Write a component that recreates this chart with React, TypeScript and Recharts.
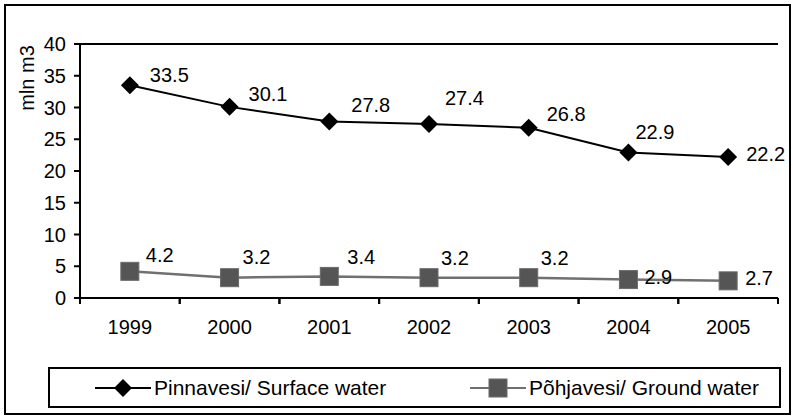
import { LineChart, Line, XAxis, YAxis, ReferenceLine, LabelList, Label } from "recharts";

const years = ["1999", "2000", "2001", "2002", "2003", "2004", "2005"];
const surfaceWater = [33.5, 30.1, 27.8, 27.4, 26.8, 22.9, 22.2];
const groundWater = [4.2, 3.2, 3.4, 3.2, 3.2, 2.9, 2.7];
const yTicks = [0, 5, 10, 15, 20, 25, 30, 35, 40];

const SURFACE_NAME = "Pinnavesi/ Surface water";
const GROUND_NAME = "Põhjavesi/ Ground water";

// label placement relative to the point (text left edge, text middle)
const surfaceLabelOffsets = [[20, -10], [19, -13], [22, -16], [16, -26], [18, -14], [7, -21], [18, -3]];
const groundLabelOffsets = [[16, -16], [13, -21], [18, -19], [12, -20], [12, -20], [16, -3], [17, -3]];

const data = years.map((year, i) => ({ year, surface: surfaceWater[i], ground: groundWater[i] }));

const W = 793;
const H = 419;
const PLOT_LEFT = 80;
const PLOT_RIGHT = 778;
const PLOT_TOP = 44;
const PLOT_BOTTOM = 298;
const BAND = (PLOT_RIGHT - PLOT_LEFT) / years.length;
const FONT = "'Liberation Sans', Arial, sans-serif";
const FS = 20;
const LEGEND_FS = 21;

const SURFACE_COLOR = "#000000";
const GROUND_LINE = "#707070";
const GROUND_MARK = "#555555";

function Diamond(props: any) {
  const { cx, cy } = props;
  if (cx == null || cy == null) return null;
  const r = 9;
  return <path d={`M${cx},${cy - r}L${cx + r},${cy}L${cx},${cy + r}L${cx - r},${cy}Z`} fill={SURFACE_COLOR} />;
}

function Square(props: any) {
  const { cx, cy } = props;
  if (cx == null || cy == null) return null;
  return <rect x={cx - 9} y={cy - 9} width={18} height={18} fill={GROUND_MARK} stroke="#6a6a6a" strokeWidth={1} />;
}

function makeLabel(offsets: number[][]) {
  return (props: any) => {
    const { x, y, value, index } = props;
    const [dx, dy] = offsets[index] || [15, -12];
    return (
      <text x={x + dx} y={y + dy} dominantBaseline="central" fontSize={FS} fontFamily={FONT} fill="#000">
        {value}
      </text>
    );
  };
}

function XTick(props: any) {
  const { x, y, payload } = props;
  return (
    <g>
      <line x1={x - BAND / 2} y1={y} x2={x - BAND / 2} y2={y + 6} stroke="#000" strokeWidth={2} />
      <line x1={x + BAND / 2} y1={y} x2={x + BAND / 2} y2={y + 6} stroke="#000" strokeWidth={2} />
      <text x={x} y={y + 29} textAnchor="middle" dominantBaseline="central" fontSize={FS} fontFamily={FONT} fill="#000">
        {payload.value}
      </text>
    </g>
  );
}

function LegendMarker({ kind }: { kind: "diamond" | "square" }) {
  return (
    <svg width={56} height={20} style={{ display: "block" }}>
      {kind === "diamond" ? (
        <>
          <line x1={0} y1={10} x2={56} y2={10} stroke={SURFACE_COLOR} strokeWidth={2} />
          <path d="M28,1L37,10L28,19L19,10Z" fill={SURFACE_COLOR} />
        </>
      ) : (
        <>
          <line x1={0} y1={10} x2={56} y2={10} stroke={GROUND_LINE} strokeWidth={2} />
          <rect x={19} y={1} width={18} height={18} fill={GROUND_MARK} stroke="#6a6a6a" strokeWidth={1} />
        </>
      )}
    </svg>
  );
}

export default function App() {
  return (
    <div style={{ position: "absolute", left: 0, top: 0, width: W, height: H, background: "#fff", fontFamily: FONT }}>
      <div
        style={{
          position: "absolute", left: 4, top: 4, width: 787, height: 411,
          border: "2px solid #000", boxSizing: "border-box",
        }}
      />
      <div style={{ position: "absolute", left: 0, top: 0 }}>
        <LineChart
          width={W}
          height={H}
          data={data}
          margin={{ top: PLOT_TOP, right: W - PLOT_RIGHT, bottom: H - PLOT_BOTTOM - 30, left: 0 }}
        >
          <XAxis
            dataKey="year"
            height={30}
            padding={{ left: BAND / 2, right: BAND / 2 }}
            axisLine={{ stroke: "#000", strokeWidth: 2 }}
            tickLine={false}
            tickSize={0}
            tickMargin={0}
            interval={0}
            tick={<XTick />}
          />
          <YAxis
            width={PLOT_LEFT}
            domain={[0, 40]}
            ticks={yTicks}
            interval={0}
            axisLine={{ stroke: "#000", strokeWidth: 2 }}
            tickLine={{ stroke: "#000", strokeWidth: 2 }}
            tickSize={6}
            tickMargin={8}
            tick={{ fontSize: FS, fontFamily: FONT, fill: "#000" }}
          >
            <Label
              content={() => (
                <text
                  x={27}
                  y={78}
                  transform="rotate(-90 27 78)"
                  textAnchor="middle"
                  dominantBaseline="central"
                  fontSize={FS}
                  fontFamily={FONT}
                  fill="#000"
                >
                  mln m3
                </text>
              )}
            />
          </YAxis>
          <YAxis
            yAxisId="right"
            orientation="right"
            width={0}
            domain={[0, 40]}
            tick={false}
            tickLine={false}
            axisLine={{ stroke: "#000", strokeWidth: 2 }}
          />
          <ReferenceLine y={40} stroke="#000" strokeWidth={2} />
          <Line
            dataKey="surface"
            name={SURFACE_NAME}
            stroke={SURFACE_COLOR}
            strokeWidth={2}
            dot={<Diamond />}
            activeDot={false}
            isAnimationActive={false}
          >
            <LabelList dataKey="surface" content={makeLabel(surfaceLabelOffsets)} />
          </Line>
          <Line
            dataKey="ground"
            name={GROUND_NAME}
            stroke={GROUND_LINE}
            strokeWidth={2.5}
            dot={<Square />}
            activeDot={false}
            isAnimationActive={false}
          >
            <LabelList dataKey="ground" content={makeLabel(groundLabelOffsets)} />
          </Line>
        </LineChart>
      </div>
      <div
        style={{
          position: "absolute", left: 48, top: 367, width: 733, height: 41,
          border: "2px solid #000", boxSizing: "border-box",
        }}
      >
        <div style={{ position: "absolute", left: 45, top: 0, height: 37, display: "flex", alignItems: "center" }}>
          <LegendMarker kind="diamond" />
          <span style={{ fontSize: LEGEND_FS, marginLeft: 3 }}>{SURFACE_NAME}</span>
        </div>
        <div style={{ position: "absolute", left: 420, top: 0, height: 37, display: "flex", alignItems: "center" }}>
          <LegendMarker kind="square" />
          <span style={{ fontSize: LEGEND_FS, marginLeft: 3 }}>{GROUND_NAME}</span>
        </div>
      </div>
    </div>
  );
}
